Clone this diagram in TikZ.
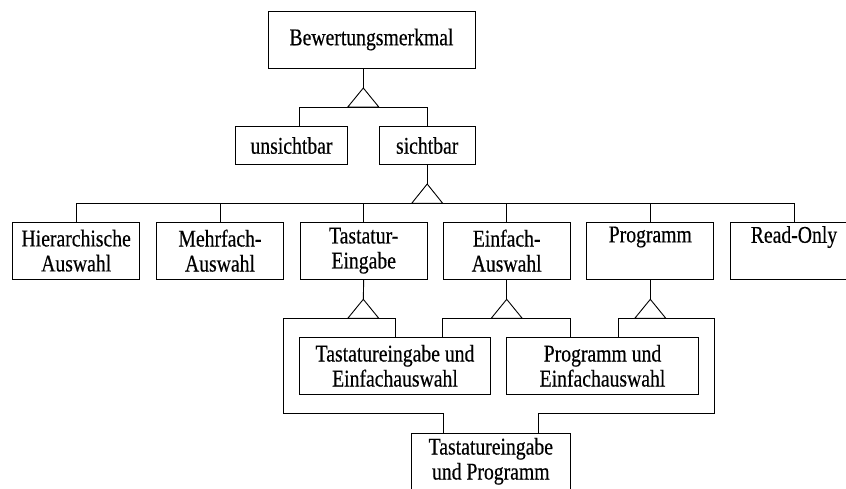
\documentclass[tikz,border=0pt]{standalone}
\usepackage{fontspec}
\setmainfont{Liberation Serif}[FakeStretch=0.82,FakeBold=0.4]
\begin{document}
\begin{tikzpicture}[x=1pt,y=-1pt,line width=0.9pt,
  box/.style={draw,rectangle,inner sep=0pt,align=center,font=\fontsize{24}{25}\selectfont},
  rowbox/.style={box,minimum width=127pt,minimum height=56.7pt},
  widebox/.style={box,minimum width=191.5pt,minimum height=56.3pt},
  gentri/.style={draw}]
\clip (0,0) rectangle (846,488);
% nodes
\node[box,minimum width=207pt,minimum height=57pt] (bm) at (371.5,39.5) {Bewertungsmerkmal};
\node[box,minimum width=111.6pt,minimum height=37.6pt] (us) at (291.5,145.5) {unsichtbar};
\node[box,minimum width=95.7pt,minimum height=37.6pt] (sb) at (427.2,145.5) {sichtbar};
\node[rowbox] (hier) at (76.2,250.7) {Hierarchische\\Auswahl};
\node[rowbox] (mehr) at (220,250.7) {Mehrfach-\\Auswahl};
\node[rowbox] (tast) at (363.7,250.7) {Tastatur-\\Eingabe};
\node[rowbox] (einf) at (506.7,250.7) {Einfach-\\Auswahl};
\node[rowbox] (prog) at (650.3,250.7) {Programm\\\strut};
\node[rowbox] (read) at (794,250.7) {Read-Only\\\strut};
\node[widebox] (te) at (395,365.8) {Tastatureingabe und\\Einfachauswahl};
\node[widebox] (pe) at (602.5,365.8) {Programm und\\Einfachauswahl};
\node[box,minimum width=159.7pt,minimum height=56pt] (tp) at (490.8,461.3) {Tastatureingabe\\und Programm};
% generalisation 1
\coordinate (a1) at (363.3,88);
\coordinate (l1) at (299,107);
\coordinate (r1) at (427.2,107);
\draw (bm.south -| a1) -- (a1);
\draw[gentri] (a1) -- ++(-15.5,19) -- ++(31,0) -- cycle;
\draw (l1 |- us.north) -- (l1) -- (r1) -- (r1 |- sb.north);
% generalisation 2
\coordinate (a2) at (427.2,184);
\coordinate (l2) at (76.2,203.3);
\coordinate (r2) at (794,203.3);
\draw (sb.south) -- (a2);
\draw[gentri] (a2) -- ++(-15.5,19.3) -- ++(31,0) -- cycle;
\draw (hier.north) -- (l2) -- (r2) -- (read.north);
\draw (mehr.north) -- (mehr.north |- l2);
\draw (tast.north) -- (tast.north |- l2);
\draw (einf.north) -- (einf.north |- l2);
\draw (prog.north) -- (prog.north |- l2);
% generalisation 3 (Tastatur)
\coordinate (a3) at (363.3,299.3);
\coordinate (l3) at (283.3,318.3);
\coordinate (r3) at (395,318.3);
\coordinate (k3) at (443,413.3);
\draw (tast.south) -- (a3);
\draw[gentri] (a3) -- ++(-15.5,19) -- ++(31,0) -- cycle;
\draw (te.north) -- (r3) -- (l3) -- (l3 |- k3) -- (k3) -- (k3 |- tp.north);
% generalisation 4 (Einfach)
\coordinate (a4) at (506.7,299.3);
\coordinate (l4) at (442.7,318.3);
\coordinate (r4) at (570.7,318.3);
\draw (einf.south) -- (a4);
\draw[gentri] (a4) -- ++(-15.5,19) -- ++(31,0) -- cycle;
\draw (l4 |- te.north) -- (l4) -- (r4) -- (r4 |- pe.north);
% generalisation 5 (Programm)
\coordinate (a5) at (650.3,299.3);
\coordinate (l5) at (618.7,318.3);
\coordinate (r5) at (714.3,318.3);
\coordinate (k5) at (538.7,413.3);
\draw (prog.south) -- (a5);
\draw[gentri] (a5) -- ++(-15.5,19) -- ++(31,0) -- cycle;
\draw (l5 |- pe.north) -- (l5) -- (r5) -- (r5 |- k5) -- (k5) -- (k5 |- tp.north);
\end{tikzpicture}
\end{document}
